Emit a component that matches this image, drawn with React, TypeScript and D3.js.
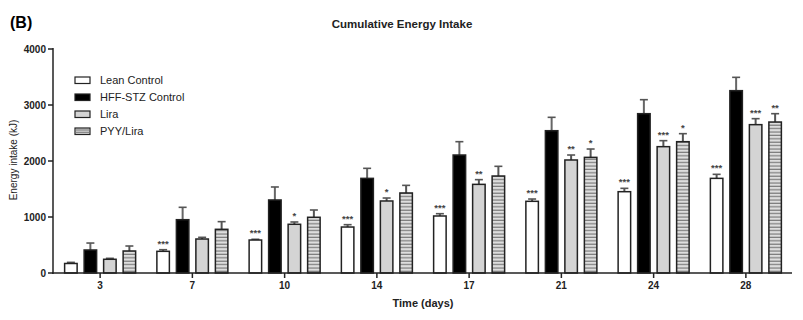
import React from "react";
import * as d3 from "d3";

const days = ["3", "7", "10", "14", "17", "21", "24", "28"];
const seriesNames = ["Lean Control", "HFF-STZ Control", "Lira", "PYY/Lira"];
const leanMean = [170, 387, 589, 821, 1018, 1280, 1452, 1690];
const leanErr = [190, 416, 602, 863, 1059, 1321, 1512, 1762];
const hffMean = [411, 952, 1304, 1690, 2107, 2541, 2845, 3256];
const hffErr = [535, 1173, 1536, 1869, 2345, 2780, 3095, 3494];
const liraMean = [245, 607, 870, 1286, 1583, 2018, 2256, 2649];
const liraErr = [262, 637, 911, 1339, 1667, 2107, 2363, 2756];
const pyyMean = [393, 780, 995, 1429, 1732, 2065, 2345, 2696];
const pyyErr = [482, 917, 1125, 1565, 1905, 2214, 2488, 2845];
const leanSig = ["", "***", "***", "***", "***", "***", "***", "***"];
const hffSig = ["", "", "", "", "", "", "", ""];
const liraSig = ["", "", "*", "*", "**", "**", "***", "***"];
const pyySig = ["", "", "", "", "", "*", "*", "**"];
const yTicks = [0, 1000, 2000, 3000, 4000];

const means = [leanMean, hffMean, liraMean, pyyMean];
const errs = [leanErr, hffErr, liraErr, pyyErr];
const sigs = [leanSig, hffSig, liraSig, pyySig];
const fills = ["#ffffff", "#000000", "#d4d4d4", "url(#hatch)"];

const W = 803;
const H = 320;
const FONT = "Arial, 'Liberation Sans', Helvetica, sans-serif";

export default function App() {
  const x = d3.scaleBand<string>().domain(days).range([53, 791]).padding(0);
  const y = d3.scaleLinear().domain([0, 4000]).range([273, 49]);
  const barW = 12.5;
  const step = 19.5;
  const offsets = [-1.5, -0.5, 0.5, 1.5].map((k) => k * step);

  return (
    <svg width={W} height={H} style={{ display: "block", position: "absolute", left: 0, top: 0 }} fontFamily={FONT}>
      <defs>
        <pattern id="hatch" patternUnits="userSpaceOnUse" width="8" height="3.4">
          <rect width="8" height="3.4" fill="#dedede" />
          <rect y="2.2" width="8" height="1.2" fill="#7a7a7a" />
        </pattern>
      </defs>
      <rect width={W} height={H} fill="#fff" />
      <text x={10} y={28} fontSize={16} fontWeight="bold">(B)</text>
      <text x={402} y={28} fontSize={11.5} fontWeight="bold" textAnchor="middle" fill="#222">
        Cumulative Energy Intake
      </text>

      {/* bars */}
      {days.map((d, i) => {
        const cx = (x(d) as number) + x.bandwidth() / 2 + 1;
        return (
          <g key={d}>
            {means.map((m, s) => {
              const bx = cx + offsets[s] - barW / 2;
              const top = y(m[i]);
              const et = y(errs[s][i]);
              const mid = bx + barW / 2;
              return (
                <g key={s}>
                  <line x1={mid} x2={mid} y1={top} y2={et} stroke={s === 1 ? "#666" : "#555"} strokeWidth={2} />
                  <line x1={mid - 4} x2={mid + 4} y1={et} y2={et} stroke="#555" strokeWidth={1.6} />
                  <rect x={bx} y={top} width={barW} height={273 - top} fill={fills[s]} stroke="#222" strokeWidth={1.5} />
                  {sigs[s][i] && (
                    <text x={mid} y={et - 3} fontSize={9.5} fontWeight="bold" textAnchor="middle" fill="#444">
                      {sigs[s][i]}
                    </text>
                  )}
                </g>
              );
            })}
          </g>
        );
      })}

      {/* axes */}
      <line x1={53} x2={53} y1={48} y2={274} stroke="#222" strokeWidth={1.5} />
      <line x1={52} x2={792} y1={273} y2={273} stroke="#222" strokeWidth={1.5} />
      {yTicks.map((t) => (
        <g key={t}>
          <line x1={48} x2={53} y1={y(t)} y2={y(t)} stroke="#222" strokeWidth={1.5} />
          <text x={46} y={y(t) + 3.5} fontSize={10} fontWeight="bold" textAnchor="end" fill="#222">
            {t}
          </text>
        </g>
      ))}
      {days.map((d) => {
        const cx = (x(d) as number) + x.bandwidth() / 2 + 1;
        return (
          <g key={d}>
            <line x1={cx} x2={cx} y1={273} y2={278} stroke="#222" strokeWidth={1.5} />
            <text x={cx} y={289} fontSize={10} fontWeight="bold" textAnchor="middle" fill="#222">
              {d}
            </text>
          </g>
        );
      })}
      <text x={423} y={307} fontSize={11} fontWeight="bold" textAnchor="middle" fill="#222">
        Time (days)
      </text>
      <text
        transform="translate(17,160) rotate(-90)"
        fontSize={10}
        textAnchor="middle"
        fill="#222"
      >
        Energy intake (kJ)
      </text>

      {/* legend */}
      {seriesNames.map((n, s) => {
        const ly = 80 + s * 17;
        return (
          <g key={n}>
            <rect x={75} y={ly - 3} width={15} height={6.5} fill={s === 3 ? "#d4d4d4" : fills[s]} stroke="#222" strokeWidth={1.2} />
            {s === 3 && (
              <>
                <line x1={75} x2={90} y1={ly - 1} y2={ly - 1} stroke="#777" strokeWidth={1} />
                <line x1={75} x2={90} y1={ly + 1.3} y2={ly + 1.3} stroke="#777" strokeWidth={1} />
              </>
            )}
            <text x={100} y={ly + 4} fontSize={11} fill="#222">
              {n}
            </text>
          </g>
        );
      })}
    </svg>
  );
}
